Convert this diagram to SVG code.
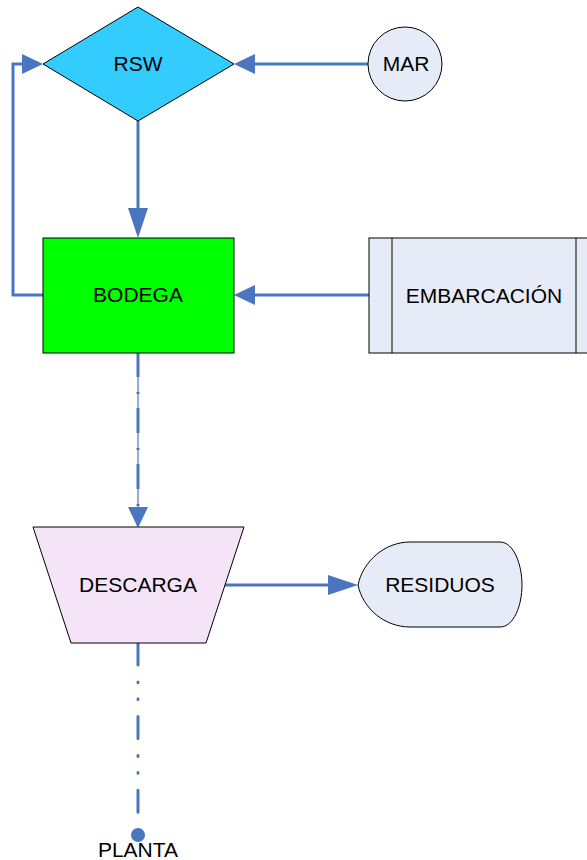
<svg xmlns="http://www.w3.org/2000/svg" width="587" height="860" viewBox="0 0 587 860">
<style>
.node{stroke:#000;stroke-width:1}
.lbl{font-family:"Liberation Sans",Arial,sans-serif;font-size:21px;fill:#000;text-anchor:middle}
.conn{fill:none;stroke:#4A76C0;stroke-width:3}
</style>
<defs>
<marker id="arr" markerUnits="userSpaceOnUse" markerWidth="22" markerHeight="20" refX="0" refY="10" orient="auto" viewBox="0 0 22 20"><path d="M0,0 L21,10 L0,20 Z" fill="#4A76C0"/></marker>
<marker id="arrL" markerUnits="userSpaceOnUse" markerWidth="31" markerHeight="20" refX="0" refY="10" orient="auto" viewBox="0 0 31 20"><path d="M0,0 L30,10 L0,20 Z" fill="#4A76C0"/></marker>
</defs>
<g id="connectors">
<path class="conn" d="M368,64 L255,64" marker-end="url(#arr)"/>
<path class="conn" d="M43,295 L13,295 L13,64 L22,64" marker-end="url(#arr)"/>
<path class="conn" d="M138,121 L138,208" marker-end="url(#arrL)"/>
<path class="conn" d="M369,295 L255,295" marker-end="url(#arr)"/>
<path fill="none" stroke="#4A76C0" stroke-width="1.2" d="M138,353 L138,507"/>
<path class="conn" d="M138,352 L138,507" stroke-dasharray="25 15 2 14" marker-end="url(#arr)"/>
<path class="conn" d="M224,585 L328,585" marker-end="url(#arrL)"/>
<path class="conn" d="M138,643 L138,826" stroke-linecap="round" stroke-dasharray="22 17 0.8 16 0.8 17"/>
<circle cx="138" cy="835" r="7" fill="#4A76C0"/>
</g>
<g id="RSW">
<polygon class="node" points="138,7 234,64 138,121 43,64" fill="#33CCFF"/>
<text class="lbl" x="138" y="71">RSW</text>
</g>
<g id="MAR">
<circle class="node" cx="405" cy="64" r="37" fill="#E6ECF7"/>
<text class="lbl" x="406" y="71">MAR</text>
</g>
<g id="BODEGA">
<rect class="node" x="43" y="238" width="191" height="115" fill="#00FF00"/>
<text class="lbl" x="138" y="302">BODEGA</text>
</g>
<g id="EMBARCACION">
<rect class="node" x="369" y="238" width="230" height="115" fill="#E6ECF7"/>
<line class="node" x1="392" y1="238" x2="392" y2="353"/>
<line class="node" x1="576" y1="238" x2="576" y2="353"/>
<text class="lbl" x="484" y="303">EMBARCACIÓN</text>
</g>
<g id="DESCARGA">
<polygon class="node" points="33,527 244,527 206,643 71,643" fill="#F5E3F8"/>
<text class="lbl" x="138" y="592">DESCARGA</text>
</g>
<g id="RESIDUOS">
<path class="node" d="M358,585 C363,561 385,542 410,542 L500,542 C514,542 522,565 522,585 C522,605 514,627 500,627 L410,627 C385,627 363,609 358,585 Z" fill="#E6ECF7"/>
<text class="lbl" x="440" y="592">RESIDUOS</text>
</g>
<g id="PLANTA">
<text class="lbl" x="138" y="857">PLANTA</text>
</g>
</svg>
